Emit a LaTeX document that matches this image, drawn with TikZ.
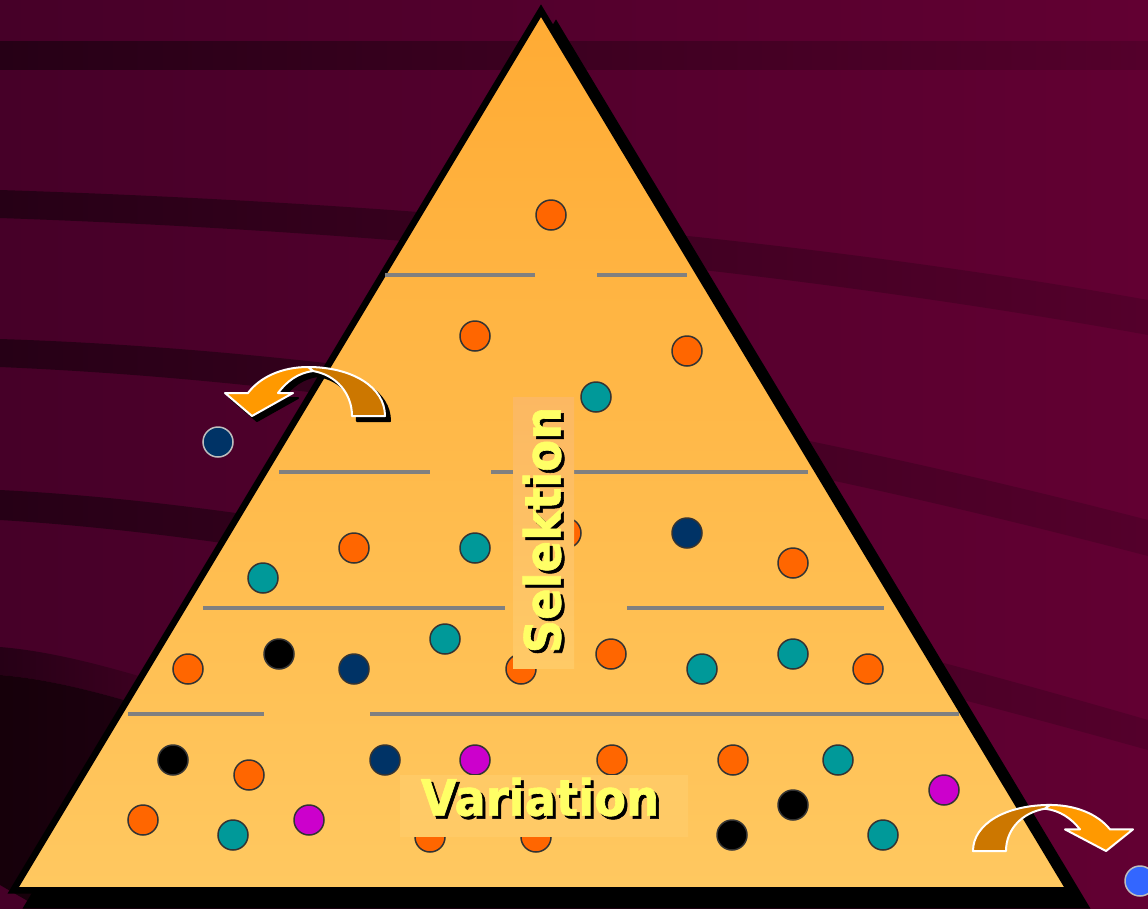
\documentclass[tikz,border=0pt]{standalone}
\usepackage{fontspec}
\setmainfont{DejaVu Sans}
\newfontfamily\wordfont{DejaVu Sans Bold}[FakeStretch=0.93, FakeBold=1.2]
\usepackage{xcolor}
\usepackage{tikz}
\definecolor{bgleft}{RGB}{70,0,40}
\definecolor{bgright}{RGB}{98,0,50}
\definecolor{bandleft}{RGB}{38,0,22}
\definecolor{bandright}{RGB}{84,0,43}
\definecolor{deepband}{RGB}{22,0,10}
\definecolor{pyrtop}{RGB}{255,171,52}
\definecolor{pyrbottom}{RGB}{255,200,96}
\definecolor{boxtop}{RGB}{252,184,98}
\definecolor{boxbottom}{RGB}{255,202,102}
\definecolor{divgray}{RGB}{128,128,128}
\definecolor{ballrim}{RGB}{51,51,51}
\definecolor{rimlight}{RGB}{190,190,190}
\definecolor{ballorange}{RGB}{255,102,0}
\definecolor{ballteal}{RGB}{0,153,153}
\definecolor{ballnavy}{RGB}{0,51,102}
\definecolor{ballmagenta}{RGB}{204,0,204}
\definecolor{ballblue}{RGB}{51,102,255}
\definecolor{arrowfront}{RGB}{255,153,0}
\definecolor{arrowback}{RGB}{204,119,0}
\definecolor{wordyellow}{RGB}{255,255,102}
\newcommand{\bentarrow}[1][]{%
  \filldraw[arrowpart, fill=arrowback, #1] (44,0) -- (77,0) .. controls (77,-29) and (44,-49) .. (0,-49) -- (5,-45) .. controls (28,-41) and (44,-23) .. (44,0) -- cycle;
  \filldraw[arrowpart, fill=arrowfront, #1] (0,-49) .. controls (-26,-49) and (-48,-39) .. (-60,-23) -- (-83,-23) -- (-56,0) -- (-15,-23) -- (-30,-23) .. controls (-21,-35) and (-10,-43) .. (5,-45) -- cycle;
}

\begin{document}
\begin{tikzpicture}[
    x=1pt, y=-1pt,
    band/.style={left color=bandleft, right color=bandright},
    ball/.style={circle, draw=ballrim, line width=1.5pt, fill=#1, minimum size=30pt, inner sep=0pt},
    stray/.style={circle, draw=rimlight, line width=1.5pt, fill=#1, minimum size=30pt, inner sep=0pt},
    divider/.style={draw=divgray, line width=4pt},
    bigword/.style={font=\wordfont\fontsize{50}{56}\selectfont, inner sep=0pt},
    wordshadow/.style={bigword, text=black},
    word/.style={bigword, text=wordyellow},
    arrowpart/.style={draw=white, line width=2pt, line join=round}
]
\useasboundingbox (0,0) rectangle (1148,908);
\clip (0,0) rectangle (1148,908);
% background and dark swirls
\shade[left color=bgleft, right color=bgright] (0,0) rectangle (1148,908);
\shade[band] (0,41) rectangle (1148,69);
\shade[band] (0,190) .. controls (400,203) and (800,238) .. (1148,300) -- (1148,335) .. controls (800,272) and (400,232) .. (0,218) -- cycle;
\shade[band] (0,339) .. controls (400,352) and (800,430) .. (1148,520) -- (1148,556) .. controls (800,465) and (400,384) .. (0,367) -- cycle;
\shade[band] (0,490) .. controls (300,505) and (700,590) .. (1148,720) -- (1148,750) .. controls (700,625) and (300,538) .. (0,520) -- cycle;
\shade[band] (0,647) .. controls (60,652) and (140,672) .. (300,730) -- (300,760) .. controls (140,700) and (60,680) .. (0,675) -- cycle;
\shade[left color=deepband, right color=bandleft] (0,675) .. controls (60,680) and (140,700) .. (300,760) -- (300,908) -- (40,908) -- (0,885) -- cycle;
% pyramid with its drop shadow
\coordinate (apex) at (541,10.7);
\coordinate (leftfoot) at (13.3,890.25);
\coordinate (rightfoot) at (1069.7,890.25);
\coordinate (shadowapex) at (556,25.7);
\coordinate (shadowleft) at (28.3,905.25);
\coordinate (shadowright) at (1084.7,905.25);
\filldraw[black, line width=6.5pt, line join=miter] (shadowapex) -- (shadowleft) -- (shadowright) -- cycle;
\shadedraw[top color=pyrtop, bottom color=pyrbottom, draw=black, line width=6.5pt, line join=miter] (apex) -- (leftfoot) -- (rightfoot) -- cycle;
% level lines
\draw[divider] (385,275) -- (535,275);
\draw[divider] (597,275) -- (687,275);
\draw[divider] (279,472) -- (430,472);
\draw[divider] (491,472) -- (808,472);
\draw[divider] (203,608) -- (505,608);
\draw[divider] (627,608) -- (884,608);
\draw[divider] (128,714) -- (264,714);
\draw[divider] (370,714) -- (959,714);
% individuals
\node[ball=ballorange] (l1a) at (551,215) {};
\node[ball=ballorange] (l2a) at (475,336) {};
\node[ball=ballorange] (l2b) at (687,351) {};
\node[ball=ballteal] (l2c) at (596,397) {};
\node[ball=ballteal] (l3a) at (263,578) {};
\node[ball=ballorange] (l3b) at (354,548) {};
\node[ball=ballteal] (l3c) at (475,548) {};
\node[ball=ballorange] (l3d) at (566,533) {};
\node[ball=ballnavy] (l3e) at (687,533) {};
\node[ball=ballorange] (l3f) at (793,563) {};
\node[ball=ballorange] (l4a) at (188,669) {};
\node[ball=black] (l4b) at (279,654) {};
\node[ball=ballnavy] (l4c) at (354,669) {};
\node[ball=ballteal] (l4d) at (445,639) {};
\node[ball=ballorange] (l4e) at (521,669) {};
\node[ball=ballorange] (l4f) at (611,654) {};
\node[ball=ballteal] (l4g) at (702,669) {};
\node[ball=ballteal] (l4h) at (793,654) {};
\node[ball=ballorange] (l4i) at (868,669) {};
\node[ball=black] (l5a) at (173,760) {};
\node[ball=ballorange] (l5b) at (249,775) {};
\node[ball=ballnavy] (l5c) at (385,760) {};
\node[ball=ballmagenta] (l5d) at (475,760) {};
\node[ball=ballorange] (l5e) at (612,760) {};
\node[ball=ballorange] (l5f) at (733,760) {};
\node[ball=ballteal] (l5g) at (838,760) {};
\node[ball=black] (l5h) at (793,805) {};
\node[ball=ballmagenta] (l5i) at (944,790) {};
\node[ball=ballorange] (l5j) at (143,820) {};
\node[ball=ballteal] (l5k) at (233,835) {};
\node[ball=ballmagenta] (l5l) at (309,820) {};
\node[ball=ballorange] (l5m) at (430,837) {};
\node[ball=ballorange] (l5n) at (536,837) {};
\node[ball=black] (l5o) at (732,835) {};
\node[ball=ballteal] (l5p) at (883,835) {};
% labels
\shade[top color=boxtop, bottom color=boxbottom] (513,397) rectangle (574,668);
\shade[top color=boxbottom, bottom color=boxbottom] (400,775) rectangle (688,836);
\node[wordshadow, rotate=90] (selektionshadow) at (545,533) {Selektion};
\node[word, rotate=90] (selektion) at (542,530) {Selektion};
\node[wordshadow] (variationshadow) at (543,800) {Variation};
\node[word] (variation) at (540,797) {Variation};
% migration arrows
\begin{scope}[shift={(313,421)}]
  \bentarrow[fill=black, draw=black]
\end{scope}
\begin{scope}[shift={(308,416)}]
  \bentarrow
\end{scope}
\begin{scope}[shift={(1050,851)}, xscale=-1, yscale=0.94]
  \bentarrow
\end{scope}
\node[stray=ballnavy] (gone) at (218,442) {};
\node[stray=ballblue] (newcomer) at (1140,881) {};
\end{tikzpicture}
\end{document}
